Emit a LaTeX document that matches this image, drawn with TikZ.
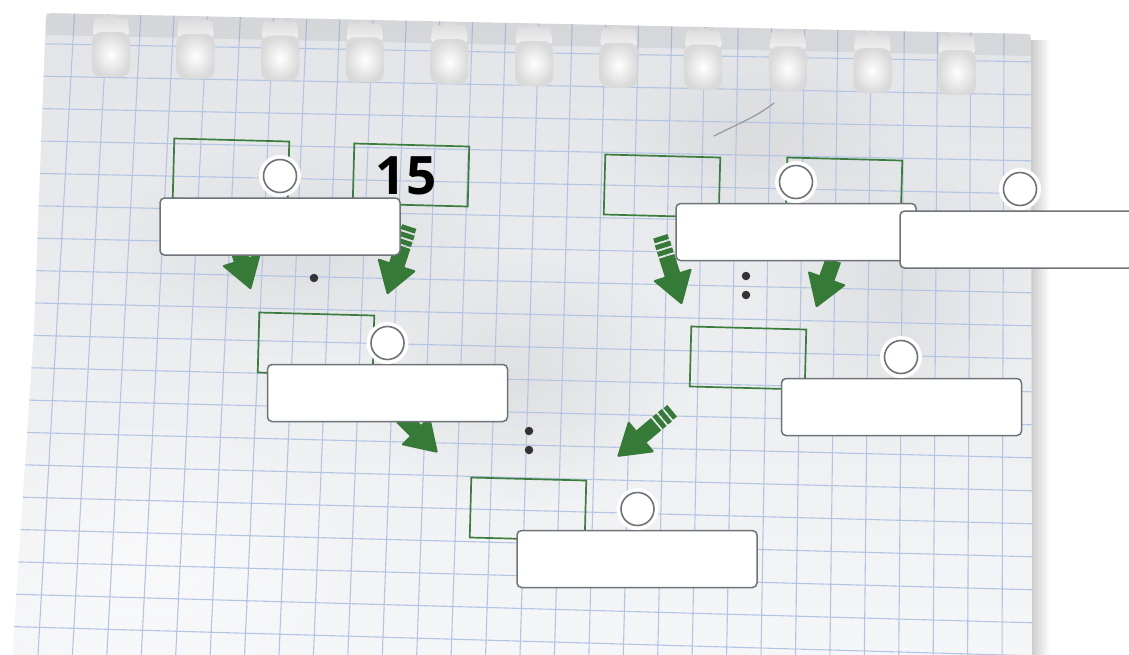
\documentclass[tikz,border=0pt]{standalone}
\usepackage{fontspec}
\setmainfont{Open Sans}
\usetikzlibrary{fadings}
\tikzfading[name=softblob, inner color=transparent!0, outer color=transparent!100]
\definecolor{paperA}{HTML}{E3E4E7}
\definecolor{paperB}{HTML}{F5F6F8}
\definecolor{gridblue}{HTML}{B3C5E2}
\definecolor{rectgreen}{HTML}{3A7D3C}
\definecolor{arrowgreen}{HTML}{367A37}
\definecolor{boxgray}{HTML}{6E7378}
\definecolor{dotgray}{HTML}{333333}
\begin{document}
\begin{tikzpicture}[x=1pt,y=-1pt,
  gridline/.style={draw=gridblue, line width=1.1pt},
  greenbox/.style={draw=rectgreen, line width=1.7pt, minimum width=115pt, minimum height=60pt, inner sep=0pt, rotate=-1.5},
  labelbox/.style={draw=boxgray, fill=white, line width=1.5pt, rounded corners=4.5pt, minimum width=240pt, minimum height=57pt, inner sep=0pt},
  marker/.style={circle, fill=white, minimum size=42pt, inner sep=0pt,
    path picture={\draw[boxgray, line width=1.6pt] (path picture bounding box.center) circle[radius=16.5pt];}},
  dotmark/.style={circle, fill=dotgray, minimum size=8.5pt, inner sep=0pt},
  fatarrow/.pic={
    \fill[arrowgreen, rounded corners=1.5pt] (0,0) -- (-32,20.5) -- (-32,-20.5) -- cycle;
    \fill[arrowgreen] (-31,-8) rectangle (-51,8);
    \fill[arrowgreen] (-53,-8) rectangle (-58,8);
    \fill[arrowgreen] (-60,-8) rectangle (-65,8);
    \fill[arrowgreen] (-67,-7.5) rectangle (-72,7.5);
  }]
\useasboundingbox (0,0) rectangle (1129,654);
\clip (0,0) rectangle (1129,654);
\fill[white] (0,0) rectangle (1129,654);
% shadow at the right edge
\shade[left color=black!26, right color=white] (1026,40) rectangle (1050,660);
% paper
\path[top color=paperA, bottom color=paperB, rounded corners=5pt]
  (46,13) -- (1031,34) -- (1032,660) -- (12,660) -- (34,330) -- cycle;
\begin{scope}
  \clip (46,13) -- (1031,34) -- (1032,660) -- (12,660) -- (34,330) -- cycle;
  % soft crumples
  \fill[black, opacity=0.06, path fading=softblob] (520,380) ellipse (170 and 130);
  \fill[black, opacity=0.05, path fading=softblob] (760,140) ellipse (160 and 90);
  \fill[black, opacity=0.05, path fading=softblob] (300,250) ellipse (200 and 110);
  \fill[black, opacity=0.05, path fading=softblob] (900,300) ellipse (140 and 160);
  \fill[white, opacity=0.5, path fading=softblob] (150,560) ellipse (220 and 150);
  % grid
  \foreach \i in {-2,...,30} \draw[gridline] ({75.3+33.17*\i},0) -- ({37.7+34.44*\i},660);
  \foreach \j in {0,...,19} \draw[gridline] (0,{43+32.4*\j}) -- (1040,{62+33*\j});
  % torn strip along the top
  \fill[black, opacity=0.06] (46,13) -- (1031,34) -- (1031,56) -- (46,35) -- cycle;
  % binder holes
  \foreach \k in {0,...,10} {
    \pgfmathsetmacro\cx{111+84.6*\k}
    \pgfmathsetmacro\ty{32+0.0213*(\cx-111)}
    \shade[top color=black!16, bottom color=black!5, rounded corners=5pt]
      ({\cx-16},{\ty-18}) -- ({\cx-8},{\ty-11}) -- ({\cx-2},{\ty-20}) -- ({\cx+6},{\ty-12}) -- ({\cx+16},{\ty-16}) -- ({\cx+19},{\ty+4}) -- ({\cx-19},{\ty+4}) -- cycle;
    \shade[inner color=white, outer color=black!15, rounded corners=9pt]
      ({\cx-19},\ty) rectangle ({\cx+19},{\ty+45});
  }
  % crease
  \draw[black!40, line width=1.2pt, line cap=round] (714,136) .. controls (735,125) and (755,118) .. (774,103);
\end{scope}

% green rectangles
\node[greenbox] (r1) at (231,170) {};
\node[greenbox] (r2) at (411,175) {};
\node[greenbox] (r3) at (316,344) {};
\node[greenbox] (r4) at (528,509) {};
\node[greenbox] (r5) at (662,186) {};
\node[greenbox] (r6) at (844,189) {};
\node[greenbox] (r7) at (748,358) {};
\node[font=\bfseries\fontsize{53}{53}\selectfont, inner sep=0pt, text=black] (t15) at (406,176) {15};

% arrows (tips)
\coordinate (a1) at (251,290);
\coordinate (a2) at (387,295);
\coordinate (a3) at (438,453);
\coordinate (a4) at (617,457);
\coordinate (a5) at (682,305);
\coordinate (a6) at (816,308);
\path (a1) pic[rotate=-72.5] {fatarrow};
\path (a2) pic[rotate=-108] {fatarrow};
\path (a3) pic[rotate=-45] {fatarrow};
\path (a4) pic[rotate=-140] {fatarrow};
\path (a5) pic[rotate=-72.5] {fatarrow};
\path (a6) pic[rotate=-110] {fatarrow};

% dots
\node[dotmark] (d1) at (314,278) {};
\node[dotmark] (d2) at (529,431) {};
\node[dotmark] (d3) at (529,450) {};
\node[dotmark] (d4) at (746,276) {};
\node[dotmark] (d5) at (746,295) {};

% label boxes
\node[labelbox] (b1) at (280,226.5) {};
\node[labelbox] (b3) at (387.5,393) {};
\node[labelbox] (b4) at (637,559) {};
\node[labelbox] (b6) at (796,232) {};
\node[labelbox] (b7) at (1020,239.5) {};
\node[labelbox] (b8) at (901.5,407) {};

% markers
\node[marker] (c1) at (280,176) {};
\node[marker] (c3) at (387.5,343) {};
\node[marker] (c4) at (637.5,509) {};
\node[marker] (c6) at (796,182) {};
\node[marker] (c7) at (1020,189) {};
\node[marker] (c8) at (901,357) {};
\end{tikzpicture}
\end{document}
